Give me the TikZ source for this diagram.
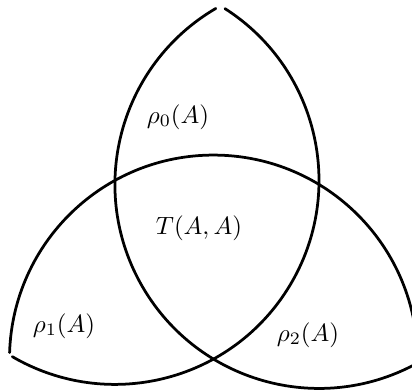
\documentclass[tikz,border=0pt]{standalone}
\begin{document}
\begin{tikzpicture}[x=0.4pt,y=0.4pt,
  curve/.style={line width=1.1pt, line cap=round},
  lab/.style={inner sep=0pt}]
\useasboundingbox (0,0) rectangle (412,392);
\clip (0,0) rectangle (412,392);
\begin{scope}[shift={(215.8,150.7)}, rotate=-1.13]
  \coordinate (c1) at (102.0,58.9);
  \coordinate (c2) at (-102.0,58.9);
  \coordinate (c3) at (0,-117.8);
  % right-centred circle: left boundary of top lens, bottom-right arc
  \draw[curve] (c1) ++(121.5:204) arc[start angle=121.5, end angle=299, radius=204];
  % left-centred circle: right boundary of top lens, bottom-left arc
  \draw[curve] (c2) ++(58.5:204) arc[start angle=58.5, end angle=-119.1, radius=204];
  % bottom-centred circle: upper arc
  \draw[curve] (c3) ++(0.9:204) arc[start angle=0.9, end angle=179.3, radius=204];
\end{scope}
\node[lab] (r0) at (178,275) {$\rho_0(A)$};
\node[lab] (t)  at (199,164) {$T(A,A)$};
\node[lab] (r1) at (64,66)   {$\rho_1(A)$};
\node[lab] (r2) at (308,57)  {$\rho_2(A)$};
\end{tikzpicture}
\end{document}
